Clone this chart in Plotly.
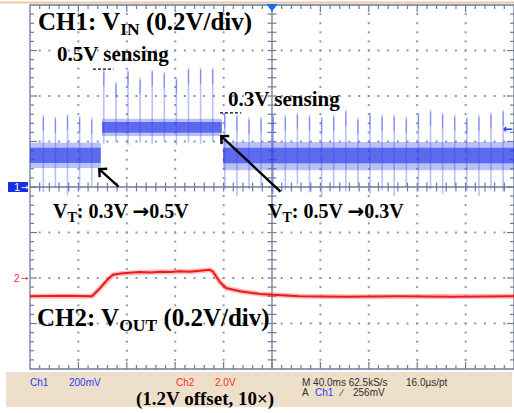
import plotly.graph_objects as go

# ---------------- data ----------------
# horizontal: time in ms (40 ms/div, 10 div); vertical: screen divisions (0.2 V/div)
ch1_seg_start = [-200.0, -140.5, -40.5]
ch1_seg_end = [-141.5, -41.5, 200.0]
ch1_outer_hi = [0.97, 1.50, 0.99]
ch1_outer_lo = [0.42, 1.12, 0.37]
ch1_core_hi = [0.86, 1.43, 0.86]
ch1_core_lo = [0.53, 1.19, 0.52]

spike_t = [-189, -179, -169, -159, -149, -139, -129, -119, -109, -99,
           -89, -79, -69, -59, -49, -39, -29, -19, -9, 1,
           11, 21, 31, 41, 51, 61, 71, 81, 91, 101,
           111, 121, 131, 141, 151, 161, 171, 181, 191]
spike_top = [1.58, 1.54, 1.60, 1.56, 1.52,
             2.57, 2.31, 2.57, 2.40, 2.57, 2.53, 2.40, 2.62, 2.62, 2.62,
             1.63,
             1.58, 1.52, 1.54, 1.58, 1.58, 1.63, 1.58, 1.54, 1.58, 1.69,
             1.52, 1.63, 1.58, 1.58, 1.54, 1.63, 1.69, 1.63, 1.58, 1.54,
             1.58, 1.63, 1.69]
spike_bot = [-0.11, -0.02, -0.18, -0.07, 0.02,
             0.95, 1.00, 0.93, 0.98, 0.95, 1.00, 0.92, 0.97, 0.95, 1.00,
             -0.05,
             -0.20, -0.05, 0.00, -0.15, -0.08, 0.05, -0.12, -0.20, -0.03, -0.10,
             0.02, -0.15, -0.07, -0.20, 0.00, -0.10, -0.05, -0.15, 0.02, -0.08,
             -0.20, -0.05, -0.10]

ch2_t = [-200, -170, -148.8, -142, -135.5, -131.4, -125, -117, -110, -100, -92,
         -84, -76, -68, -60, -51.2, -48.8, -43, -38, -26.4, -10, 1, 23, 60, 105, 150, 200]
ch2_v = [-2.40, -2.39, -2.40, -2.22, -2.02, -1.93, -1.90, -1.89, -1.87, -1.88, -1.86,
         -1.87, -1.85, -1.86, -1.84, -1.82, -1.86, -2.09, -2.22, -2.29, -2.35, -2.37,
         -2.40, -2.41, -2.40, -2.41, -2.40]

level_marks_t0 = [-148.0, -43.0]
level_marks_t1 = [-131.0, -25.5]
level_marks_v = [2.59, 1.63]

ch1_ground_div = 0.0
ch2_ground_div = -2.0
trig_level_mv = 256
ch1_mv_per_div = 200

# ---------------- geometry ----------------
W, H = 514, 413
GX0, GX1, GY0, GY1 = 30, 514, 5, 369
XDIV, YDIV = 10, 8
MS_DIV = 40.0
pdx = (GX1 - GX0) / XDIV
pdy = (GY1 - GY0) / YDIV
x_range = [-200 - GX0 / pdx * MS_DIV, 200 + (W - GX1) / pdx * MS_DIV]
y_range = [-4 - (H - GY1) / pdy, 4 + GY0 / pdy]


def px(x):
    return x / W


def py(y):
    return 1 - y / H


GRID = '#6e7a9a'
DOT = '#8e96ac'
fig = go.Figure()

# ticks
tx, ty = [], []
mnx, mjx = 4 / pdx * MS_DIV, 7 / pdx * MS_DIV
mny, mjy = 4 / pdy, 7 / pdy
for i in range(1, 50):
    x = -200 + 8 * i
    ly = mjy if i % 5 == 0 else mny
    tx += [x, x, None, x, x, None, x, x, None]
    ty += [4, 4 - ly, None, -4, -4 + ly, None, -mny * 1.1, mny * 1.1, None]
for j in range(1, 40):
    y = -4 + 0.2 * j
    lx = mjx if j % 5 == 0 else mnx
    tx += [-200, -200 + lx, None, 200, 200 - lx, None, -mnx * 1.1, mnx * 1.1, None]
    ty += [y, y, None, y, y, None, y, y, None]
fig.add_trace(go.Scatter(x=tx, y=ty, mode='lines', line=dict(color=GRID, width=1.2),
                         hoverinfo='skip'))

# dotted grid
dx, dy = [], []
for k in [-160, -120, -80, -40, 40, 80, 120, 160]:
    for j in range(1, 40):
        dx.append(k); dy.append(-4 + 0.2 * j)
for k in [-3, -2, -1, 1, 2, 3]:
    for i in range(1, 50):
        dx.append(-200 + 8 * i); dy.append(k)
fig.add_trace(go.Scatter(x=dx, y=dy, mode='markers',
                         marker=dict(symbol='square', size=2, color=DOT, line=dict(width=0)),
                         hoverinfo='skip'))

# CH1 spikes
sx, sy = [], []
for t, a, b in zip(spike_t, spike_top, spike_bot):
    sx += [t, t, None]; sy += [b, a, None]
fig.add_trace(go.Scatter(x=sx, y=sy, mode='lines',
                         line=dict(color='rgba(80,95,235,0.40)', width=1.6), hoverinfo='skip'))
ux, uy = [], []
for t, a, b in zip(spike_t, spike_top, spike_bot):
    ux += [t, t, None]; uy += [a - 0.05, a - 0.35, None]
fig.add_trace(go.Scatter(x=ux, y=uy, mode='lines',
                         line=dict(color='rgba(50,60,230,0.40)', width=1.2), hoverinfo='skip'))


# CH1 noise band
def band(lo, hi):
    bx, by = [], []
    for t0, t1, a, b in zip(ch1_seg_start, ch1_seg_end, lo, hi):
        bx += [t0, t1, t1, t0, t0, None]
        by += [b, b, a, a, b, None]
    return bx, by


bx, by = band(ch1_outer_lo, ch1_outer_hi)
fig.add_trace(go.Scatter(x=bx, y=by, mode='lines', fill='toself', line=dict(width=0),
                         fillcolor='rgba(80,100,235,0.40)', hoverinfo='skip'))
bx, by = band(ch1_core_lo, ch1_core_hi)
fig.add_trace(go.Scatter(x=bx, y=by, mode='lines', fill='toself', line=dict(width=0),
                         fillcolor='rgba(35,55,232,0.62)', hoverinfo='skip'))

# CH2 trace
fig.add_trace(go.Scatter(x=ch2_t, y=ch2_v, mode='lines',
                         line=dict(color='rgba(255,60,60,0.35)', width=5), hoverinfo='skip'))
fig.add_trace(go.Scatter(x=ch2_t, y=ch2_v, mode='lines',
                         line=dict(color='#f01818', width=2), hoverinfo='skip'))

# level marks
for t0, t1, v in zip(level_marks_t0, level_marks_t1, level_marks_v):
    fig.add_shape(type='line', x0=t0, x1=t1, y0=v, y1=v,
                  line=dict(color='black', width=1.2, dash='3px,2px'))

shapes = [
    dict(type='rect', xref='paper', yref='paper', x0=px(6), x1=px(512), y0=py(407), y1=py(372),
         fillcolor='#eedfcb', line=dict(width=0), layer='below'),
    dict(type='line', xref='paper', yref='paper', x0=0, x1=1, y0=py(2.5), y1=py(2.5),
         line=dict(color='#e8c9a4', width=2)),
    dict(type='rect', x0=-200, x1=200, y0=-4, y1=4, line=dict(color=GRID, width=1.3), layer='below'),
    dict(type='line', x0=0, x1=0, y0=-4, y1=4, line=dict(color=GRID, width=1.3), layer='below'),
    dict(type='line', x0=-200, x1=200, y0=0, y1=0, line=dict(color=GRID, width=1.3), layer='below'),
    dict(type='rect', xref='paper', yref='y', x0=px(8), x1=px(28),
         y0=ch1_ground_div - 5 / pdy, y1=ch1_ground_div + 5 / pdy,
         fillcolor='#1530e0', line=dict(width=0)),
]
for s in shapes:
    fig.add_shape(**s)

SERIF = dict(family='Liberation Serif, Times New Roman, serif', color='black', weight='bold')
ARW = '<span style="font-family:DejaVu Sans">\u2192</span>'
ann = []


def txt(x, y, s, size, xref='paper', yref='paper', font=None, xanchor='left'):
    f = dict(SERIF) if font is None else dict(font)
    f['size'] = size
    ann.append(dict(x=x, y=y, xref=xref, yref=yref, text=s, showarrow=False,
                    xanchor=xanchor, yanchor='middle', font=f))


txt(px(36), py(23), 'CH1: V<sub>IN</sub> (0.2V/div)', 25)
txt(px(55), py(54), '0.5V sensing', 21)
txt(px(226), py(99), '0.3V sensing', 21)
txt(px(51), py(212), 'V<sub>T</sub>: 0.3V ' + ARW + '0.5V', 20)
txt(px(266), py(212), 'V<sub>T</sub>: 0.5V ' + ARW + '0.3V', 20)
txt(px(35), py(319), 'CH2: V<sub>OUT</sub> (0.2V/div)', 25)
txt(px(134), py(399), '(1.2V offset, 10\u00d7)', 19)

SANS = dict(family='Liberation Sans, Arial, sans-serif')
DJ = dict(family='DejaVu Sans')
BLUE, RED, DARK = '#2a3cf0', '#f03030', '#303030'
txt(px(28), py(382), 'Ch1', 10, font=dict(SANS, color=BLUE))
txt(px(67), py(382), f'{ch1_mv_per_div}mV', 10, font=dict(SANS, color=BLUE))
txt(px(174), py(382), 'Ch2', 10, font=dict(SANS, color=RED))
txt(px(213), py(382), '2.0V', 10, font=dict(SANS, color=RED))
txt(px(300), py(382), 'M 40.0ms 62.5kS/s', 10, font=dict(SANS, color=DARK))
txt(px(404), py(382), '16.0\u00b5s/pt', 10, font=dict(SANS, color=DARK))
txt(px(300), py(392), 'A', 10, font=dict(SANS, color=DARK))
txt(px(313), py(392), 'Ch1', 10, font=dict(SANS, color=BLUE))
txt(px(336), py(392), '\u2215', 10, font=dict(SANS, color=DARK))
txt(px(351), py(392), f'{trig_level_mv}mV', 10, font=dict(SANS, color=DARK))

# channel markers
txt(px(12), ch1_ground_div, '1', 11, yref='y', font=dict(SANS, color='white'))
txt(px(19), ch1_ground_div, '\u2192', 9, yref='y', font=dict(DJ, color='white'))
txt(px(12), ch2_ground_div, '2', 10, yref='y', font=dict(SANS, color=RED))
txt(px(19), ch2_ground_div, '\u2192', 9, yref='y', font=dict(DJ, color=RED))
txt(px(501), trig_level_mv / ch1_mv_per_div, '\u2190', 12, yref='y',
    font=dict(DJ, color=BLUE, weight='bold'))

# arrows
ann.append(dict(x=px(98), y=py(168), xref='paper', yref='paper', ax=22, ay=20,
                showarrow=True, arrowhead=4, arrowsize=0.9, arrowwidth=2.4, arrowcolor='black', text=''))
ann.append(dict(x=px(220), y=py(135), xref='paper', yref='paper', ax=62, ay=58,
                showarrow=True, arrowhead=4, arrowsize=0.9, arrowwidth=2.4, arrowcolor='black', text=''))

fig.update_layout(annotations=ann)

# trigger position marker at top
fig.add_trace(go.Scatter(x=[0], y=[4 - 1.5 / pdy], mode='markers',
                         marker=dict(symbol='triangle-down', size=10, color='#1a6ee0'),
                         hoverinfo='skip'))

fig.update_layout(width=W, height=H, margin=dict(l=0, r=0, t=0, b=0),
                  plot_bgcolor='white', paper_bgcolor='white', showlegend=False,
                  xaxis=dict(visible=False, range=x_range, fixedrange=True),
                  yaxis=dict(visible=False, range=y_range, fixedrange=True))
fig.write_html('out.html', config={'displayModeBar': False},
               post_script="document.body.style.margin='0';document.body.style.padding='0';")
